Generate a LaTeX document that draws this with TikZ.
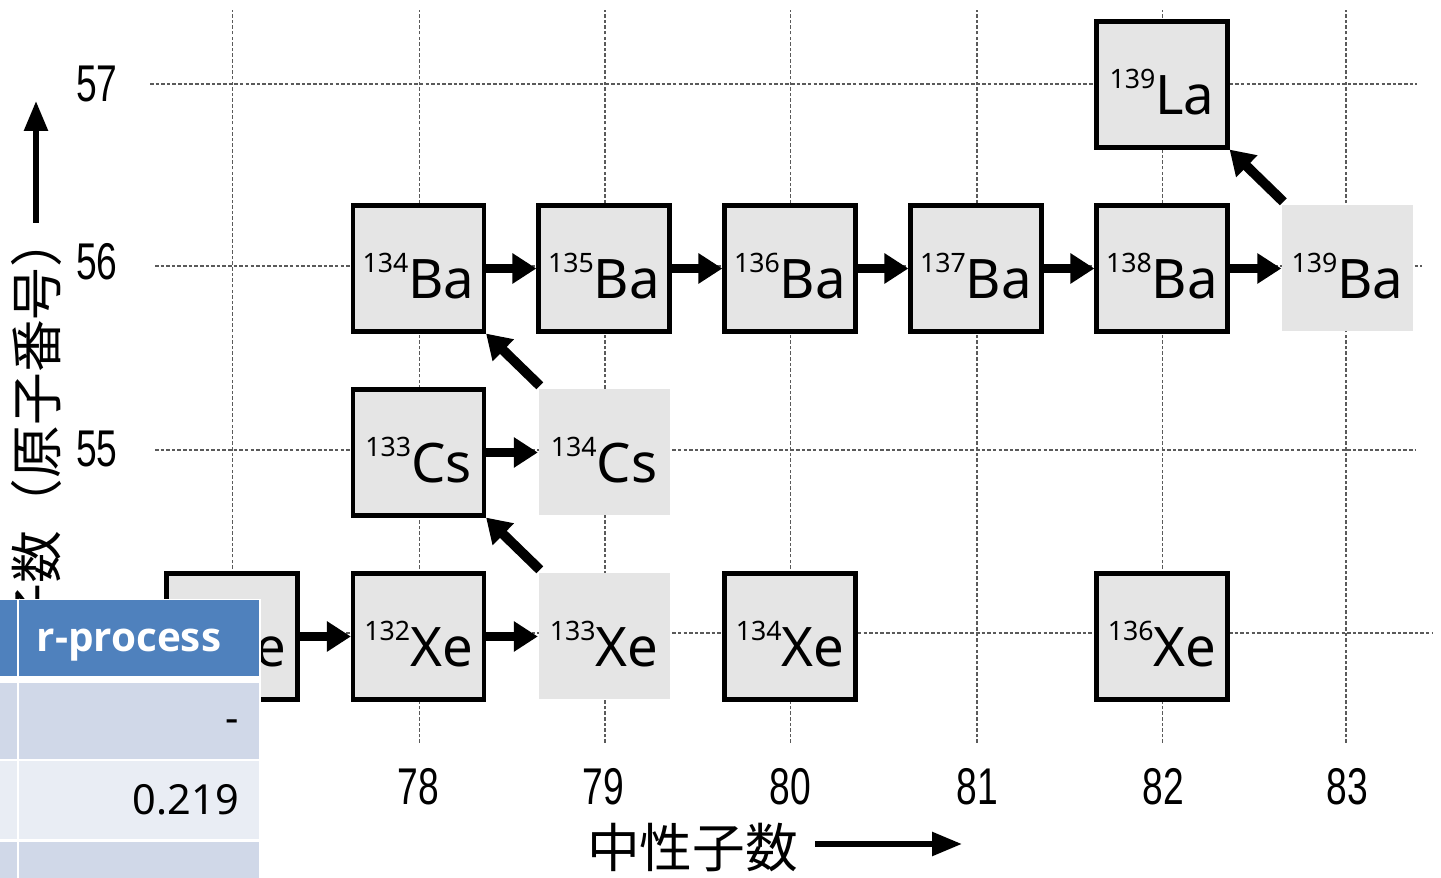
\documentclass[tikz,border=0pt]{standalone}
\usepackage{fontspec}
\setmainfont{Noto Sans}
\newfontfamily\cjkfont{Noto Sans CJK JP}
\newfontfamily\narrowfont[FakeStretch=0.72]{Liberation Sans}
\newfontfamily\headfont{Open Sans}
\usetikzlibrary{arrows.meta}
\definecolor{boxgray}{RGB}{229,229,229}
\definecolor{gridgray}{RGB}{90,90,90}
\definecolor{tblhead}{RGB}{79,129,189}
\definecolor{tbldark}{RGB}{208,216,232}
\definecolor{tbllight}{RGB}{233,237,244}
\tikzset{
  nuc/.style={draw=black, line width=1.2pt, fill=boxgray, minimum width=1.31cm, minimum height=1.26cm, inner sep=0pt, text height=0.6cm, text depth=0pt},
  nuclight/.style={fill=boxgray, minimum width=1.31cm, minimum height=1.26cm, inner sep=0pt, text height=0.6cm, text depth=0pt},
  gridline/.style={gridgray, line width=0.4pt, dash pattern=on 1pt off 0.6pt},
  flow/.style={line width=2.8pt, -{Triangle[length=2.4mm, width=2.9mm]}},
  axisarrow/.style={line width=1.6pt, -{Triangle[length=3mm, width=2.3mm]}},
  ticklbl/.style={font=\narrowfont\fontsize{14.7}{16}\selectfont, inner sep=0pt},
  axislbl/.style={font=\cjkfont\fontsize{15}{16}\selectfont, inner sep=0pt},
  cellval/.style={font=\fontsize{11.8}{13}\selectfont, inner sep=0pt, anchor=base east}
}
\newcommand{\iso}[2]{\raisebox{7.4pt}{\fontsize{7.6}{8}\selectfont #1}{\fontsize{15.5}{16}\selectfont #2}}

\begin{document}
\begin{tikzpicture}
  \useasboundingbox (0,0) rectangle (14.41,8.78);
  \fill[white] (0,0) rectangle (14.41,8.78);
  % grid
  \foreach \x in {2.325,4.195,6.05,7.905,9.77,11.625,13.46} \draw[gridline] (\x,1.35) -- (\x,8.68);
  \draw[gridline] (1.50,7.94) -- (14.17,7.94);
  \draw[gridline] (1.55,6.12) -- (14.22,6.12);
  \draw[gridline] (1.55,4.28) -- (14.15,4.28);
  \draw[gridline] (1.55,2.45) -- (14.32,2.45);
  % tick labels
  \node[ticklbl] (z57) at (0.97,7.945) {57};
  \node[ticklbl] (z56) at (0.97,6.16) {56};
  \node[ticklbl] (z55) at (0.97,4.29) {55};
  \foreach \n/\x in {78/4.18,79/6.03,80/7.90,81/9.77,82/11.63,83/13.47}
    \node[ticklbl] (n\n) at (\x,0.91) {\n};
  % axes
  \node[axislbl] (xlab) at (6.925,0.30) {中性子数};
  \coordinate (xfrom) at (8.15,0.34);
  \coordinate (xto) at (9.62,0.34);
  \draw[axisarrow] (xfrom) -- (xto);
  \node[axislbl, rotate=90, anchor=east] (ylab) at (0.365,6.64) {陽子数（原子番号）};
  \coordinate (yfrom) at (0.36,6.55);
  \coordinate (yto) at (0.36,7.77);
  \draw[axisarrow] (yfrom) -- (yto);
  % nuclides
  \node[nuc] (xe131) at (2.32,2.415) {\iso{131}{Xe}};
  \node[nuc] (xe132) at (4.185,2.415) {\iso{132}{Xe}};
  \node[nuclight] (xe133) at (6.04,2.415) {\iso{133}{Xe}};
  \node[nuc] (xe134) at (7.90,2.415) {\iso{134}{Xe}};
  \node[nuc] (xe136) at (11.62,2.415) {\iso{136}{Xe}};
  \node[nuc] (cs133) at (4.185,4.255) {\iso{133}{Cs}};
  \node[nuclight] (cs134) at (6.04,4.255) {\iso{134}{Cs}};
  \node[nuc] (ba134) at (4.185,6.095) {\iso{134}{Ba}};
  \node[nuc] (ba135) at (6.04,6.095) {\iso{135}{Ba}};
  \node[nuc] (ba136) at (7.90,6.095) {\iso{136}{Ba}};
  \node[nuc] (ba137) at (9.76,6.095) {\iso{137}{Ba}};
  \node[nuc] (ba138) at (11.62,6.095) {\iso{138}{Ba}};
  \node[nuclight] (ba139) at (13.475,6.095) {\iso{139}{Ba}};
  \node[nuc] (la139) at (11.62,7.935) {\iso{139}{La}};
  % neutron capture
  \foreach \a/\b in {xe131/xe132,xe132/xe133,cs133/cs134,ba134/ba135,ba135/ba136,ba136/ba137,ba137/ba138,ba138/ba139}
    \draw[flow] (\a.east) -- (\b.west);
  % beta decay
  \foreach \a/\b in {xe133/cs133,cs134/ba134,ba139/la139}
    \draw[flow] ([shift={(0.02,0.03)}]\a.north west) -- (\b.south east);
  % table
  \fill[white] (0,0) rectangle (2.61,2.79);
  \fill[tblhead] (0,2.02) rectangle (0.17,2.78);
  \fill[tblhead] (0.19,2.02) rectangle (2.59,2.78);
  \fill[tbldark] (0,1.19) rectangle (0.17,1.95);
  \fill[tbldark] (0.19,1.19) rectangle (2.59,1.95);
  \fill[tbllight] (0,0.39) rectangle (0.17,1.17);
  \fill[tbllight] (0.19,0.39) rectangle (2.59,1.17);
  \fill[tbldark] (0,0) rectangle (0.17,0.36);
  \fill[tbldark] (0.19,0) rectangle (2.59,0.36);
  \node[font=\headfont\bfseries\fontsize{11.5}{13}\selectfont, text=white, inner sep=0pt, anchor=base] (rproc) at (1.29,2.26) {r-process};
  \node[cellval] (val1) at (2.40,1.45) {-};
  \node[cellval] (val2) at (2.395,0.63) {0.219};
\end{tikzpicture}
\end{document}
